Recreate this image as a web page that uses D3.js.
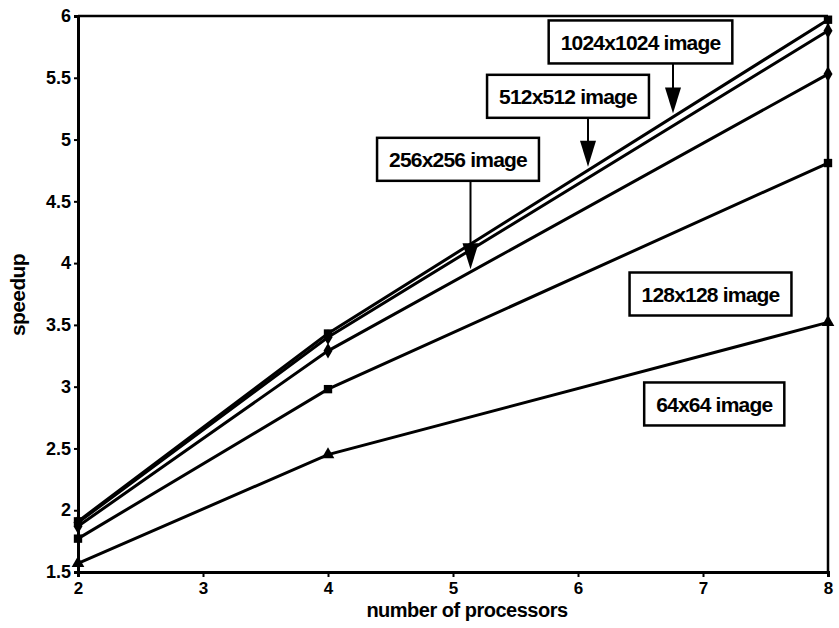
<!DOCTYPE html>
<html>
<head>
<meta charset="utf-8">
<script src="https://cdn.jsdelivr.net/npm/d3@7"></script>
<style>
  html, body { margin: 0; padding: 0; background: #fff; }
  svg { display: block; }
  text { font-family: "Liberation Sans", Arial, Helvetica, sans-serif; fill: #000; }
</style>
</head>
<body>
<svg id="chart" width="839" height="628"></svg>
<script>
// ---- data ----
const processors = [2, 4, 8];
const seriesNames = ["1024x1024 image", "512x512 image", "256x256 image", "128x128 image", "64x64 image"];
const speedup1024 = [1.91, 3.43, 5.97];
const speedup512  = [1.90, 3.40, 5.88];
const speedup256  = [1.87, 3.29, 5.53];
const speedup128  = [1.77, 2.98, 4.81];
const speedup64   = [1.57, 2.45, 3.52];
const xTicks = [2, 3, 4, 5, 6, 7, 8];
const yTicks = [1.5, 2, 2.5, 3, 3.5, 4, 4.5, 5, 5.5, 6];
const xTitle = "number of processors";
const yTitle = "speedup";
// annotation boxes (centre in data units) and arrow tips (data units)
const labelX   = [6.50, 5.92, 5.04, 7.06, 7.09];
const labelY   = [5.79, 5.35, 4.84, 3.75, 2.86];
const arrowX   = [6.76, 6.08, 5.14, null, null];
const arrowTip = [5.21, 4.78, 3.95, null, null];

const allSeries = [speedup1024, speedup512, speedup256, speedup128, speedup64];
const symbols = [d3.symbolSquare, d3.symbolDiamond, d3.symbolDiamond, d3.symbolSquare, d3.symbolTriangle];

const svg = d3.select("#chart");
const margin = {left: 78, right: 11, top: 16, bottom: 56};
const W = 839, H = 628;
const x = d3.scaleLinear().domain([2, 8]).range([margin.left, W - margin.right]);
const y = d3.scaleLinear().domain([1.5, 6]).range([H - margin.bottom, margin.top]);

// frame (top & right)
svg.append("line").attr("x1", x(2)).attr("x2", x(8)).attr("y1", y(6)).attr("y2", y(6))
  .attr("stroke", "#000").attr("stroke-width", 2.5);
svg.append("line").attr("x1", x(8)).attr("x2", x(8)).attr("y1", y(6)).attr("y2", y(1.5))
  .attr("stroke", "#000").attr("stroke-width", 2.5);

// axes
const xAxis = svg.append("g").attr("transform", `translate(0,${y(1.5)})`)
  .call(d3.axisBottom(x).tickValues(xTicks).tickFormat(d3.format("d")).tickSize(5).tickPadding(3));
const yAxis = svg.append("g").attr("transform", `translate(${x(2)},0)`)
  .call(d3.axisLeft(y).tickValues(yTicks).tickFormat(d => String(d)).tickSize(4).tickPadding(3));
[xAxis, yAxis].forEach(g => {
  g.select(".domain").attr("stroke", "#000").attr("stroke-width", 3);
  g.selectAll(".tick line").attr("stroke", "#000").attr("stroke-width", 2);
  g.selectAll(".tick text").attr("font-size", 18).attr("font-weight", "bold")
    .attr("font-family", "'Liberation Sans', Arial, sans-serif").attr("fill", "#000");
});
xAxis.selectAll(".tick text").attr("font-size", 17).attr("dy", "0.8em");

// titles
svg.append("text").attr("x", 467).attr("y", 617).attr("text-anchor", "middle")
  .attr("font-size", 20).attr("letter-spacing", -0.5).attr("font-weight", "bold").text(xTitle);
svg.append("text").attr("transform", `translate(25,295) rotate(-90)`).attr("text-anchor", "middle")
  .attr("font-size", 21).attr("letter-spacing", -0.6).attr("font-weight", "bold").text(yTitle);

// lines
const line = d3.line().x((d, i) => x(processors[i])).y(d => y(d));
allSeries.forEach((vals, k) => {
  svg.append("path").datum(vals).attr("d", line)
    .attr("fill", "none").attr("stroke", "#000").attr("stroke-width", 3);
  svg.selectAll(null).data(vals).enter().append("path")
    .attr("transform", (d, i) => `translate(${x(processors[i])},${y(d)})`)
    .attr("d", d3.symbol().type(symbols[k]).size(70))
    .attr("fill", "#000");
});

// annotations
seriesNames.forEach((name, k) => {
  const cx = x(labelX[k]), cy = y(labelY[k]);
  const g = svg.append("g");
  const t = g.append("text").attr("x", cx).attr("y", cy).attr("text-anchor", "middle")
    .attr("dy", "0.36em").attr("font-size", 21).attr("font-weight", "bold")
    .attr("letter-spacing", -0.8).text(name);
  const bw = t.node().getComputedTextLength() + 24, bh = 43;
  g.insert("rect", "text").attr("x", cx - bw / 2).attr("y", cy - bh / 2)
    .attr("width", bw).attr("height", bh).attr("fill", "#fff")
    .attr("stroke", "#000").attr("stroke-width", 2.5);
  if (arrowX[k] !== null) {
    const ax = x(arrowX[k]), top = cy + bh / 2, tip = y(arrowTip[k]);
    g.append("line").attr("x1", ax).attr("x2", ax).attr("y1", top).attr("y2", tip - 20)
      .attr("stroke", "#000").attr("stroke-width", 2);
    g.append("path").attr("d", `M${ax - 8},${tip - 26}L${ax + 8},${tip - 26}L${ax},${tip}Z`)
      .attr("fill", "#000");
  }
});
</script>
</body>
</html>
